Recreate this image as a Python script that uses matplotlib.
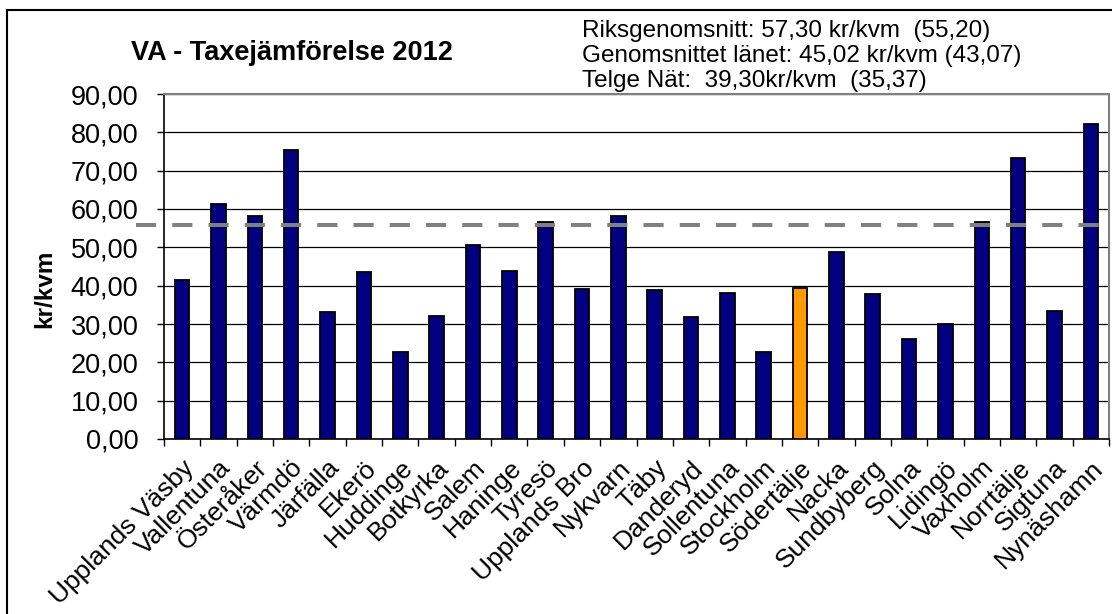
import numpy as np
import matplotlib
matplotlib.use('Agg')
from matplotlib import pyplot as plt
from matplotlib.patches import Rectangle
from matplotlib.ticker import FuncFormatter, FixedLocator
from matplotlib.transforms import ScaledTranslation

plt.rcParams['font.family'] = ['Liberation Sans', 'DejaVu Sans']

# kommuner och taxa (kr/kvm)
kommuner = ['Upplands Väsby', 'Vallentuna', 'Österåker', 'Värmdö', 'Järfälla',
            'Ekerö', 'Huddinge', 'Botkyrka', 'Salem', 'Haninge', 'Tyresö',
            'Upplands Bro', 'Nykvarn', 'Täby', 'Danderyd', 'Sollentuna',
            'Stockholm', 'Södertälje', 'Nacka', 'Sundbyberg', 'Solna',
            'Lidingö', 'Vaxholm', 'Norrtälje', 'Sigtuna', 'Nynäshamn']
taxa = [41.4, 61.2, 58.3, 75.4, 33.1, 43.5, 22.7, 32.1, 50.7, 43.8, 56.6,
        39.2, 58.3, 38.8, 31.8, 38.2, 22.7, 39.3, 48.9, 37.8, 26.1, 30.0,
        56.6, 73.3, 33.5, 82.2]
markerad = 'Södertälje'
riks_linje = 55.9

info_rader = ['Riksgenomsnitt: 57,30 kr/kvm  (55,20)',
              'Genomsnittet länet: 45,02 kr/kvm (43,07)',
              'Telge Nät:  39,30kr/kvm  (35,37)']

W, H = 1112, 614
fig = plt.figure(figsize=(W / 100, H / 100), dpi=100)
ax = fig.add_axes([164 / W, 1 - 439 / H, (1109 - 164) / W, (439 - 94) / H])

n = len(kommuner)
x = np.arange(n)
farger = ['#FF9900' if k == markerad else '#000080' for k in kommuner]
ax.bar(x, taxa, width=0.4, color=farger, edgecolor='black', linewidth=1.3, zorder=3)

ax.set_xlim(-0.5, n - 0.5)
ax.set_ylim(0, 90)
ax.set_yticks(np.arange(0, 91, 10))
ax.yaxis.set_major_formatter(FuncFormatter(lambda v, p: f'{v:.2f}'.replace('.', ',')))
ax.yaxis.grid(True, color='black', linewidth=0.9)
ax.set_axisbelow(True)

ax.xaxis.set_major_locator(FixedLocator(np.arange(-0.5, n, 1.0)))
ax.xaxis.set_minor_locator(FixedLocator(x))
ax.set_xticklabels([])
ax.set_xticklabels(kommuner, minor=True, rotation=45, ha='right', va='top',
                   rotation_mode='anchor', fontsize=19)
flytt = ScaledTranslation(6 / 72, 0, fig.dpi_scale_trans)
for lab in ax.get_xticklabels(minor=True):
    lab.set_transform(lab.get_transform() + flytt)
ax.tick_params(axis='x', which='major', length=5, width=1, direction='out')
ax.tick_params(axis='x', which='minor', length=0, pad=12)
ax.tick_params(axis='y', length=5, width=1, labelsize=19.5, pad=13.5)

for s in ['top', 'right']:
    ax.spines[s].set_color('#808080')
    ax.spines[s].set_linewidth(1.5)
for s in ['left', 'bottom']:
    ax.spines[s].set_color('black')
    ax.spines[s].set_linewidth(1.2)

# streckad linje för riksgenomsnittet
ax.plot([-1.27, n + 1], [riks_linje, riks_linje], color='#808080', linewidth=2.9,
        dashes=(5, 4), clip_on=False, zorder=4)

fig.text(45 / W, 1 - 289 / H, 'kr/kvm', rotation=90, fontsize=17.5, fontweight='bold',
         ha='center', va='center')

fig.text(292 / W, 1 - 60 / H, 'VA - Taxejämförelse 2012', fontsize=19.5,
         fontweight='bold', ha='center', va='baseline')

for i, rad in enumerate(info_rader):
    fig.text(582 / W, 1 - (36.5 + 25.2 * i) / H, rad, fontsize=17.5,
             ha='left', va='baseline')

# ram runt hela figuren
fig.patches.append(Rectangle((7 / W, -0.1), 1.2, 1 - 10 / H + 0.1,
                             transform=fig.transFigure, fill=False,
                             edgecolor='black', linewidth=1.5))

fig.savefig('out.png', dpi=100)
